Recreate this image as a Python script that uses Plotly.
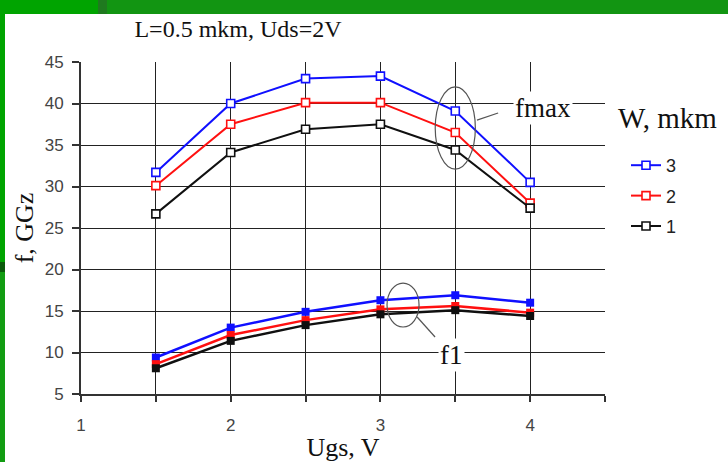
import plotly.graph_objects as go

ugs = [1.5, 2.0, 2.5, 3.0, 3.5, 4.0]
widths = ["3", "2", "1"]
colors = ["#1010ff", "#ff1010", "#101010"]
fmax_w3 = [31.7, 40.0, 43.0, 43.3, 39.1, 30.5]
fmax_w2 = [30.1, 37.5, 40.1, 40.1, 36.5, 28.0]
fmax_w1 = [26.7, 34.1, 36.9, 37.5, 34.4, 27.4]
f1_w3 = [9.4, 13.0, 14.9, 16.3, 16.9, 16.0]
f1_w2 = [8.6, 12.1, 13.9, 15.2, 15.6, 14.8]
f1_w1 = [8.1, 11.4, 13.3, 14.6, 15.1, 14.4]
x_tickvals = [1, 1.5, 2, 2.5, 3, 3.5, 4, 4.5]
x_ticktext = ["1", "", "2", "", "3", "", "4", ""]
y_tickvals = [5, 10, 15, 20, 25, 30, 35, 40, 45]

W, H = 728, 462
ML, MR, MT, MB = 81, 123, 62, 68
PW, PH = W - ML - MR, H - MT - MB

def px(xp):
    return (xp - ML) / PW

def py(yp):
    return (H - MB - yp) / PH

fig = go.Figure()
fmax_all = [fmax_w3, fmax_w2, fmax_w1]
f1_all = [f1_w3, f1_w2, f1_w1]
for w, c, fm in zip(widths, colors, fmax_all):
    fig.add_trace(go.Scatter(
        x=ugs, y=fm, mode="lines+markers", name=w, legendgroup=w,
        line=dict(color=c, width=2),
        marker=dict(symbol="square", size=8, color="white", line=dict(color=c, width=1.6)),
    ))
for w, c, f in zip(widths, colors, f1_all):
    fig.add_trace(go.Scatter(
        x=ugs, y=f, mode="lines+markers", name=w, legendgroup=w, showlegend=False,
        line=dict(color=c, width=2.5),
        marker=dict(symbol="square", size=8, color=c),
    ))

serif = "Liberation Serif"
sans = "Liberation Sans"

shapes = [
    # green frame strips
    dict(type="rect", xref="paper", yref="paper", x0=px(0), x1=px(98), y0=py(14), y1=py(0),
         fillcolor="#00a400", line_width=0, layer="above"),
    dict(type="rect", xref="paper", yref="paper", x0=px(98), x1=px(107), y0=py(14), y1=py(0),
         fillcolor="#1f7a1f", line_width=0, layer="above"),
    dict(type="rect", xref="paper", yref="paper", x0=px(107), x1=px(728), y0=py(14), y1=py(0),
         fillcolor="#129512", line_width=0, layer="above"),
    dict(type="rect", xref="paper", yref="paper", x0=px(0), x1=px(5), y0=py(262), y1=py(14),
         fillcolor="#00a400", line_width=0, layer="above"),
    dict(type="rect", xref="paper", yref="paper", x0=px(0), x1=px(5), y0=py(272), y1=py(262),
         fillcolor="#0b5a0b", line_width=0, layer="above"),
    dict(type="rect", xref="paper", yref="paper", x0=px(0), x1=px(5), y0=py(462), y1=py(272),
         fillcolor="#129c12", line_width=0, layer="above"),
    # ellipses and leader lines
    dict(type="circle", xref="x", yref="y", x0=3.366, x1=3.634, y0=32.1, y1=42.0,
         line=dict(color="#555555", width=1.2)),
    dict(type="line", xref="x", yref="y", x0=3.645, y0=38.0, x1=3.786, y1=38.86,
         line=dict(color="#555555", width=1.2)),
    dict(type="circle", xref="x", yref="y", x0=3.044, x1=3.258, y0=13.07, y1=18.37,
         line=dict(color="#555555", width=1.2)),
    dict(type="line", xref="x", yref="y", x0=3.245, y0=14.28, x1=3.365, y1=11.87,
         line=dict(color="#555555", width=1.2)),
]

annotations = [
    dict(x=4.086, y=39.46, xref="x", yref="y", text="fmax", showarrow=False,
         font=dict(family=serif, size=27, color="#111111"), bgcolor="white"),
    dict(x=3.478, y=9.7, xref="x", yref="y", text="f1", showarrow=False,
         font=dict(family=serif, size=27, color="#111111"), bgcolor="white"),
    dict(x=px(616), y=py(118), xref="paper", yref="paper", xanchor="left", yanchor="middle",
         text="W, mkm", showarrow=False,
         font=dict(family=serif, size=29, color="#111111")),
]

fig.update_layout(
    width=W, height=H,
    margin=dict(l=ML, r=MR, t=MT, b=MB, autoexpand=False),
    paper_bgcolor="white", plot_bgcolor="white",
    title=dict(text="L=0.5 mkm, Uds=2V", x=238 / W, xref="container", xanchor="center",
               y=1 - 29 / H, yref="container", yanchor="middle",
               font=dict(family=serif, size=24, color="#111111")),
    xaxis=dict(range=[1, 4.5], tickvals=x_tickvals, ticktext=x_ticktext,
               showgrid=True, gridcolor="#222222", gridwidth=1.3,
               showline=True, linecolor="#333333", linewidth=2, mirror=False,
               ticks="outside", ticklen=6, tickcolor="#333333", tickwidth=1.5,
               tickfont=dict(family=sans, size=17, color="#444444"),
               ticklabelstandoff=9,
               title=dict(text="Ugs, V", standoff=0, font=dict(family=serif, size=26, color="#111111")),
               zeroline=False),
    yaxis=dict(range=[5, 45], tickvals=y_tickvals,
               showgrid=True, gridcolor="#222222", gridwidth=1.3,
               showline=True, linecolor="#333333", linewidth=2,
               ticks="outside", ticklen=7, tickcolor="#333333", tickwidth=1.5,
               tickfont=dict(family=sans, size=17, color="#444444"),
               ticklabelstandoff=5,
               title=dict(text="f, GGz", standoff=4, font=dict(family=serif, size=26, color="#111111")),
               zeroline=False),
    legend=dict(x=px(626), y=py(147), xanchor="left", yanchor="top",
                font=dict(family=sans, size=18, color="#222222"),
                tracegroupgap=4,
                bgcolor="rgba(0,0,0,0)", itemwidth=30),
    shapes=shapes,
    annotations=annotations,
    showlegend=True,
)

fig.write_html("out.html", config={"displayModeBar": False},
               post_script="document.body.style.margin='0';document.body.style.overflow='hidden';")
